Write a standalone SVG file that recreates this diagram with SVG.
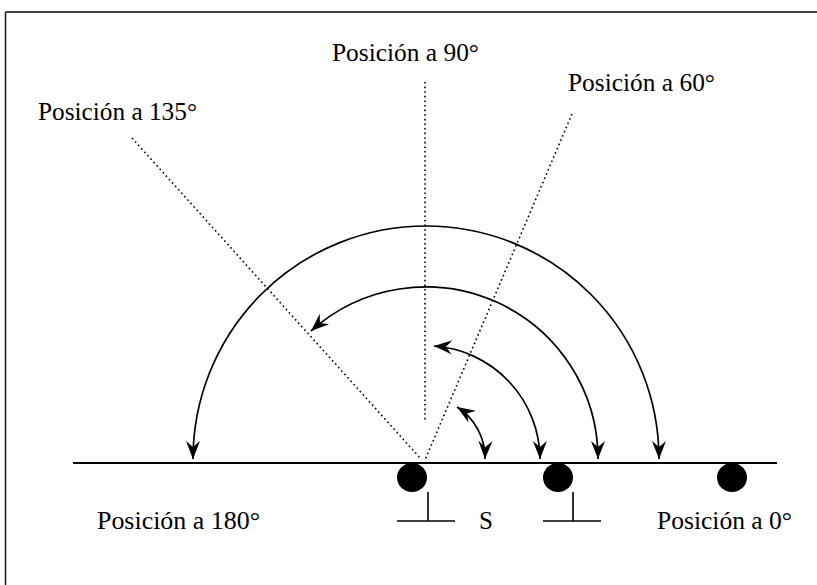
<svg xmlns="http://www.w3.org/2000/svg" width="817" height="585" viewBox="0 0 817 585">
  <style>
    text { font-family: "Liberation Serif", "Times New Roman", serif; font-size: 25px; fill: #000; }
    .dot { fill: none; stroke: #000; stroke-width: 1.6; stroke-dasharray: 1.6 3; }
    .arc { fill: none; stroke: #000; stroke-width: 1.7; }
    .base { stroke: #000; stroke-width: 2; }
    .stem { stroke: #000; stroke-width: 1.6; fill: none; }
  </style>
  <defs>
    <marker id="ah" markerUnits="userSpaceOnUse" viewBox="-19 -8 20 16" markerWidth="20" markerHeight="16" refX="0" refY="0" orient="auto-start-reverse">
      <path d="M0,0 L-18,-7 L-12,0 L-18,7 Z" fill="#000"/>
    </marker>
  </defs>
  <rect width="817" height="585" fill="#fff"/>
  <g id="frame">
    <line x1="5.5" y1="12" x2="817" y2="12" stroke="#444" stroke-width="2"/>
    <line x1="5.5" y1="12" x2="5.5" y2="585" stroke="#222" stroke-width="1.6"/>
  </g>
  <g id="labels">
    <text id="l90" x="332" y="61" font-size="25" textLength="147" lengthAdjust="spacingAndGlyphs">Posición a 90°</text>
    <text id="l60" x="568" y="91" font-size="25" textLength="147" lengthAdjust="spacingAndGlyphs">Posición a 60°</text>
    <text id="l135" x="38" y="120" font-size="25" textLength="159" lengthAdjust="spacingAndGlyphs">Posición a 135°</text>
    <text id="l180" x="97" y="529" font-size="25" textLength="163" lengthAdjust="spacingAndGlyphs">Posición a 180°</text>
    <text id="l0" x="657" y="529" font-size="25" textLength="135" lengthAdjust="spacingAndGlyphs">Posición a 0°</text>
    <text id="lS" x="479" y="529" font-size="25">S</text>
  </g>
  <g id="guides">
    <line class="dot" x1="425" y1="82" x2="425" y2="421" stroke-dasharray="1.4 1.6"/>
    <line class="dot" x1="132" y1="138" x2="421" y2="459"/>
    <line class="dot" x1="572" y1="114" x2="425" y2="460"/>
  </g>
  <g id="base">
    <line class="base" x1="73" y1="463" x2="777" y2="463"/>
  </g>
  <g id="connectors">
    <path class="arc" d="M659,459 A233,233 0 0 0 193,459" marker-start="url(#ah)" marker-end="url(#ah)"/>
    <path class="arc" d="M598,459 A172,172 0 0 0 311,331" marker-start="url(#ah)" marker-end="url(#ah)"/>
    <path class="arc" d="M540,459 A114,114 0 0 0 434,346" marker-start="url(#ah)" marker-end="url(#ah)"/>
    <path class="arc" d="M485,459 A60,60 0 0 0 457,407" marker-start="url(#ah)" marker-end="url(#ah)"/>
  </g>
  <g id="contact1">
    <ellipse cx="412" cy="477.5" rx="15" ry="14.5" fill="#000"/>
    <path class="stem" d="M428,492 V521 M397,521 H455"/>
  </g>
  <g id="contact2">
    <ellipse cx="558" cy="477.5" rx="15" ry="14.5" fill="#000"/>
    <path class="stem" d="M573,492 V521 M543,521 H601"/>
  </g>
  <g id="contact3">
    <ellipse cx="732" cy="477.5" rx="15" ry="14.5" fill="#000"/>
  </g>
</svg>
